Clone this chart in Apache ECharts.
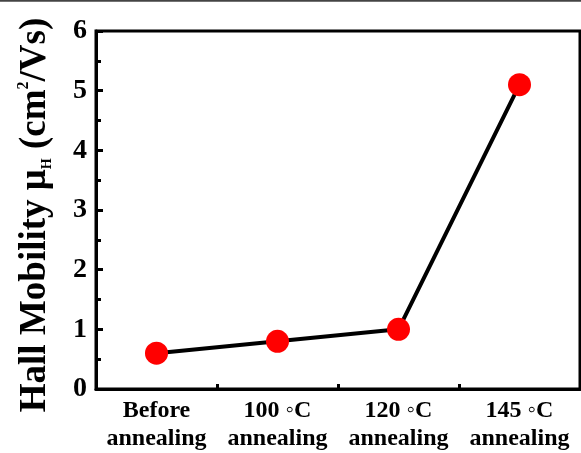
<!DOCTYPE html>
<html>
<head>
<meta charset="utf-8">
<script src="https://cdn.jsdelivr.net/npm/echarts@6/dist/echarts.min.js"></script>
<style>html,body{margin:0;padding:0;background:#fff;}#c{width:581px;height:453px;}</style>
</head>
<body>
<div id="c"></div>
<script>
var categories = ['Before\nannealing', '100 \u25E6C\nannealing', '120 \u25E6C\nannealing', '145 \u25E6C\nannealing'];
var mobility = [0.6, 0.8, 1.0, 5.1];
var yTicks = [0, 1, 2, 3, 4, 5, 6];

var FONT = "'Liberation Serif', 'Times New Roman', serif";
var chart = echarts.init(document.getElementById('c'), null, {renderer: 'canvas'});
var gridBox = {left: 96, right: 1, top: 31, bottom: 64};
chart.setOption({
  animation: false,
  backgroundColor: '#fff',
  graphic: [{
    type: 'line', shape: {x1: 0, y1: 0.8, x2: 581, y2: 0.8},
    style: {stroke: '#444', lineWidth: 1.7}, silent: true
  }],
  grid: [
    Object.assign({show: true, borderColor: '#000', borderWidth: 3, backgroundColor: 'transparent'}, gridBox),
    Object.assign({show: false}, gridBox)
  ],
  xAxis: [{
    gridIndex: 0, type: 'category', data: categories, boundaryGap: true, position: 'bottom',
    axisLine: {lineStyle: {color: '#000', width: 3}},
    axisTick: {alignWithLabel: true, inside: true, length: 7, lineStyle: {color: '#000', width: 3}},
    axisLabel: {color: '#000', fontFamily: FONT, fontWeight: 'bold', fontSize: 24, lineHeight: 28, margin: 8, interval: 0},
    splitLine: {show: false}
  }, {
    gridIndex: 1, type: 'category', data: categories, boundaryGap: true, position: 'bottom',
    axisLine: {show: false},
    axisTick: {show: true, inside: true, length: 5, interval: 0, lineStyle: {color: '#000', width: 3}},
    axisLabel: {show: false}, splitLine: {show: false}
  }],
  yAxis: [{
    gridIndex: 0, type: 'value', min: yTicks[0], max: yTicks[yTicks.length - 1], interval: 1,
    axisLine: {show: true, lineStyle: {color: '#000', width: 3}},
    axisTick: {show: true, inside: true, length: 7, lineStyle: {color: '#000', width: 3}},
    minorTick: {show: true, splitNumber: 2, length: 5, lineStyle: {color: '#000', width: 3}},
    axisLabel: {color: '#000', fontFamily: FONT, fontWeight: 'bold', fontSize: 28, margin: 9},
    splitLine: {show: false},
    name: '{a|Hall Mobility \u03BC}{sub|H}{a| (cm}{sup|2}{a|/Vs)}',
    nameLocation: 'middle', nameRotate: 90, nameGap: 42,
    nameTextStyle: {
      color: '#000', fontFamily: FONT, fontWeight: 'bold', fontSize: 37,
      padding: [0, 10, 0, 0],
      rich: {
        a: {color: '#000', fontFamily: FONT, fontWeight: 'bold', fontSize: 37, lineHeight: 38, verticalAlign: 'bottom'},
        sub: {color: '#000', fontFamily: FONT, fontWeight: 'bold', fontSize: 14, lineHeight: 8, verticalAlign: 'bottom'},
        sup: {color: '#000', fontFamily: FONT, fontWeight: 'bold', fontSize: 16, lineHeight: 34, verticalAlign: 'top'}
      }
    }
  }, {
    gridIndex: 1, type: 'value', min: yTicks[0], max: yTicks[yTicks.length - 1], interval: 1, show: false
  }],
  series: [{
    type: 'line', data: mobility, xAxisIndex: 0, yAxisIndex: 0,
    symbol: 'circle', symbolSize: 23,
    itemStyle: {color: '#ff0000'},
    lineStyle: {color: '#000', width: 4}
  }]
});
</script>
</body>
</html>
